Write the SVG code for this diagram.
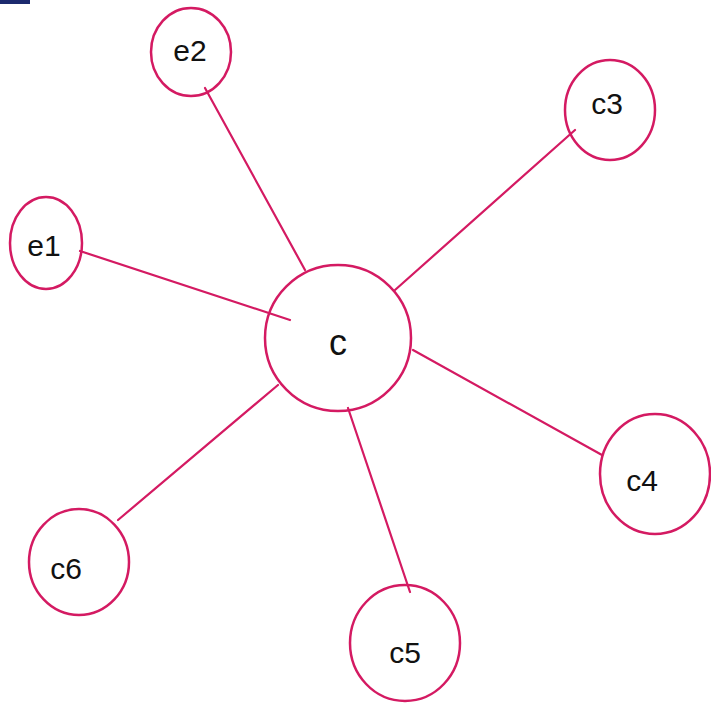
<svg xmlns="http://www.w3.org/2000/svg" width="711" height="709" viewBox="0 0 711 709">
<style>
.n{fill:none;stroke:#d41a62;stroke-width:2.5}
.e line{stroke:#d41a62;stroke-width:2.2;stroke-linecap:round}
.t{font-family:"Liberation Sans",Arial,sans-serif;font-size:30px;fill:#111;text-anchor:middle;dominant-baseline:central}
</style>
<rect width="711" height="709" fill="#fff"/>
<rect x="0" y="0" width="30" height="4" fill="#1c2a6e"/>
<g id="connectors" class="e">
<line x1="80" y1="251" x2="290" y2="320"/>
<line x1="205" y1="88" x2="305" y2="270"/>
<line x1="575" y1="130" x2="395" y2="290"/>
<line x1="413" y1="350" x2="602" y2="455"/>
<line x1="348" y1="408" x2="410" y2="592"/>
<line x1="278" y1="385" x2="118" y2="520"/>
</g>
<g id="c"><circle class="n" cx="338" cy="338" r="73"/><text class="t" x="338" y="342" style="font-size:36px">c</text></g>
<g id="e1"><ellipse class="n" cx="46" cy="243" rx="36" ry="46"/><text class="t" x="44" y="245">e1</text></g>
<g id="e2"><ellipse class="n" cx="191" cy="52" rx="40" ry="44"/><text class="t" x="190" y="50">e2</text></g>
<g id="c3"><ellipse class="n" cx="610" cy="110" rx="45" ry="50"/><text class="t" x="607" y="103">c3</text></g>
<g id="c4"><ellipse class="n" cx="655" cy="474" rx="55" ry="60"/><text class="t" x="642" y="480">c4</text></g>
<g id="c5"><ellipse class="n" cx="405" cy="643" rx="55" ry="58"/><text class="t" x="405" y="652">c5</text></g>
<g id="c6"><ellipse class="n" cx="79" cy="562" rx="50" ry="53"/><text class="t" x="66" y="568">c6</text></g>
</svg>
